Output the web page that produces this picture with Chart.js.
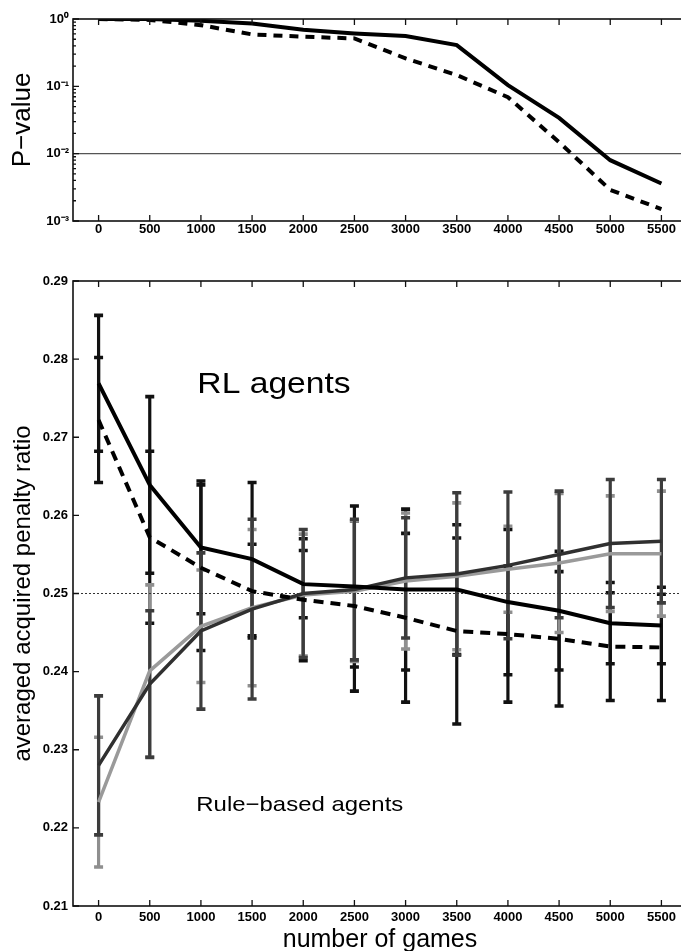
<!DOCTYPE html>
<html>
<head>
<meta charset="utf-8">
<script src="https://cdn.jsdelivr.net/npm/chart.js@4.4.1/dist/chart.umd.min.js"></script>
<style>
  html, body { margin: 0; padding: 0; background: #fff; }
  body { width: 681px; height: 951px; overflow: hidden; position: relative; }
  #pBox { position: absolute; left: 0; top: 0; width: 700px; height: 245px; }
  #ratioBox { position: absolute; left: 0; top: 245px; width: 700px; height: 706px; }
</style>
</head>
<body>
<div id="pBox"><canvas id="pChart"></canvas></div>
<div id="ratioBox"><canvas id="ratioChart"></canvas></div>
<script>
// games played before each evaluation
const games = [0, 500, 1000, 1500, 2000, 2500, 3000, 3500, 4000, 4500, 5000, 5500];
const gameTicks = [0, 500, 1000, 1500, 2000, 2500, 3000, 3500, 4000, 4500, 5000, 5500];

// P-value of each RL agent against the rule-based agents
const pSolid = [1.0, 1.0, 0.94, 0.86, 0.69, 0.61, 0.56, 0.41, 0.104, 0.034, 0.0080, 0.0036];
const pDashed = [1.0, 0.97, 0.81, 0.59, 0.545, 0.515, 0.26, 0.147, 0.069, 0.0148, 0.0029, 0.0015];
const pThreshold = 0.01;
const pMajorTicks = [0.001, 0.01, 0.1, 1];

// averaged acquired penalty ratio (mean and half error bar)
const rlSolid = [0.2769, 0.2639, 0.2559, 0.2544, 0.2512, 0.2509, 0.2505, 0.2505, 0.2489, 0.2478, 0.2462, 0.2459];
const rlSolidErr = [0.0087, 0.0113, 0.0085, 0.0098, 0.0043, 0.0103, 0.0103, 0.0083, 0.0093, 0.0076, 0.0052, 0.0049];
const rlDashed = [0.2722, 0.2572, 0.2533, 0.2503, 0.2492, 0.2484, 0.2469, 0.2452, 0.2448, 0.2442, 0.2432, 0.2431];
const rlDashedErr = [0.0080, 0.0110, 0.0106, 0.0060, 0.0078, 0.0109, 0.0108, 0.0119, 0.0087, 0.0086, 0.0069, 0.0068];
const ruleDark = [0.2280, 0.2384, 0.2452, 0.2480, 0.2500, 0.2505, 0.2520, 0.2525, 0.2536, 0.2550, 0.2564, 0.2567];
const ruleDarkErr = [0.0089, 0.0094, 0.0100, 0.0115, 0.0082, 0.0090, 0.0077, 0.0104, 0.0094, 0.0081, 0.0082, 0.0079];
const ruleLight = [0.2233, 0.2401, 0.2458, 0.2482, 0.2498, 0.2503, 0.2516, 0.2522, 0.2531, 0.2539, 0.2551, 0.2551];
const ruleLightErr = [0.0083, 0.0110, 0.0072, 0.0100, 0.0078, 0.0090, 0.0087, 0.0094, 0.0055, 0.0089, 0.0074, 0.0080];
const fairShare = 0.25;
const ratioTicks = [0.21, 0.22, 0.23, 0.24, 0.25, 0.26, 0.27, 0.28, 0.29];

const FONT = '"Liberation Sans", Arial, Helvetica, sans-serif';
Chart.defaults.font.family = FONT;
Chart.defaults.color = '#000';

const SUP = { '-': '\u207B', '0': '\u2070', '1': '\u00B9', '2': '\u00B2', '3': '\u00B3' };
const pow10Label = v => '10' + String(Math.round(Math.log10(v))).split('').map(c => SUP[c]).join('');
const pts = vals => games.map((g, i) => ({ x: g, y: vals[i] }));
const isMajor = v => Math.abs(Math.log10(v) - Math.round(Math.log10(v))) < 1e-9;
const tickFont = { size: 13, weight: 'bold' };

// box around the plot with inward tick marks on every side that shows
const frameTicks = {
  id: 'frameTicks',
  afterDraw(chart) {
    const { ctx, chartArea: a, scales: { x, y } } = chart;
    ctx.save();
    ctx.strokeStyle = '#111';
    ctx.lineWidth = 1.6;
    ctx.strokeRect(a.left, a.top, a.right - a.left, a.bottom - a.top);
    ctx.lineWidth = 1.3;
    ctx.beginPath();
    x.ticks.forEach(t => {
      const px = x.getPixelForValue(t.value);
      ctx.moveTo(px, a.bottom); ctx.lineTo(px, a.bottom - 6);
      ctx.moveTo(px, a.top); ctx.lineTo(px, a.top + 6);
    });
    y.ticks.forEach(t => {
      const py = y.getPixelForValue(t.value);
      const len = (y.type !== 'logarithmic' || isMajor(t.value)) ? 6 : 3;
      ctx.moveTo(a.left, py); ctx.lineTo(a.left + len, py);
    });
    ctx.stroke();
    ctx.restore();
  }
};

// vertical error bars with caps, drawn under the lines
const errorBars = {
  id: 'errorBars',
  beforeDatasetsDraw(chart, args, opts) {
    const { ctx, scales: { x, y } } = chart;
    ctx.save();
    ctx.lineCap = 'butt';
    (opts.series || []).forEach(s => {
      ctx.strokeStyle = s.color;
      games.forEach((g, i) => {
        const px = x.getPixelForValue(g);
        const top = y.getPixelForValue(s.values[i] + s.errors[i]);
        const bot = y.getPixelForValue(s.values[i] - s.errors[i]);
        ctx.lineWidth = 3.2;
        ctx.beginPath();
        ctx.moveTo(px, top); ctx.lineTo(px, bot);
        ctx.stroke();
        ctx.lineWidth = 3.6;
        ctx.beginPath();
        ctx.moveTo(px - 4.5, top); ctx.lineTo(px + 4.5, top);
        ctx.moveTo(px - 4.5, bot); ctx.lineTo(px + 4.5, bot);
        ctx.stroke();
      });
    });
    ctx.restore();
  }
};

// group names written inside the plot
const groupLabels = {
  id: 'groupLabels',
  afterDatasetsDraw(chart, args, opts) {
    const { ctx, scales: { x, y } } = chart;
    (opts.items || []).forEach(it => {
      ctx.save();
      ctx.translate(x.getPixelForValue(it.x), y.getPixelForValue(it.y));
      ctx.scale(it.stretch, 1);
      ctx.font = `${it.size}px ${FONT}`;
      ctx.fillStyle = '#000';
      ctx.textBaseline = 'alphabetic';
      ctx.fillText(it.text, 0, 0);
      ctx.restore();
    });
  }
};

const xAxis = (height, pad, title) => ({
  type: 'linear',
  min: -250,
  max: 5750,
  afterBuildTicks: s => { s.ticks = gameTicks.map(v => ({ value: v })); },
  afterFit: s => { s.height = height; },
  grid: { display: false, drawTicks: false },
  border: { display: false },
  ticks: { padding: pad, autoSkip: false, maxRotation: 0, font: tickFont, color: '#000', callback: v => String(v) },
  title: title
});

const lineDefaults = { pointRadius: 0, tension: 0, fill: false, borderCapStyle: 'butt' };

new Chart(document.getElementById('pChart'), {
  type: 'line',
  data: {
    datasets: [
      { ...lineDefaults, data: [{ x: -250, y: pThreshold }, { x: 5750, y: pThreshold }], borderColor: '#555', borderWidth: 1.2, order: 3 },
      { ...lineDefaults, data: pts(pDashed), borderColor: '#000', borderWidth: 4, borderDash: [9, 7], order: 2 },
      { ...lineDefaults, data: pts(pSolid), borderColor: '#000', borderWidth: 4, order: 1 }
    ]
  },
  options: {
    responsive: true,
    maintainAspectRatio: false,
    animation: false,
    layout: { padding: { top: 19, right: 13, bottom: 0, left: 0 } },
    plugins: { legend: { display: false }, tooltip: { enabled: false } },
    scales: {
      x: xAxis(24, 1, { display: false }),
      y: {
        type: 'logarithmic',
        min: 0.001,
        max: 1,
        afterBuildTicks: s => {
          const t = [];
          pMajorTicks.forEach((m, i) => {
            if (i === pMajorTicks.length - 1) { t.push({ value: m }); return; }
            for (let k = 1; k <= 9; k++) t.push({ value: m * k });
          });
          s.ticks = t;
        },
        afterFit: s => { s.width = 73; },
        grid: { display: false, drawTicks: false },
        border: { display: false },
        ticks: {
          padding: 4,
          autoSkip: false,
          font: tickFont,
          color: '#000',
          callback: v => isMajor(v) ? pow10Label(v) : ''
        },
        title: { display: true, text: 'P\u2212value', font: { size: 26 }, padding: { top: 7, bottom: 0 }, color: '#000' }
      }
    }
  },
  plugins: [frameTicks]
});

new Chart(document.getElementById('ratioChart'), {
  type: 'line',
  data: {
    datasets: [
      { ...lineDefaults, data: [{ x: -250, y: fairShare }, { x: 5750, y: fairShare }], borderColor: '#333', borderWidth: 1, borderDash: [2, 2], order: 5 },
      { ...lineDefaults, data: pts(ruleLight), borderColor: '#9a9a9a', borderWidth: 3.5, order: 4 },
      { ...lineDefaults, data: pts(ruleDark), borderColor: '#303030', borderWidth: 3.5, order: 3 },
      { ...lineDefaults, data: pts(rlDashed), borderColor: '#000', borderWidth: 4, borderDash: [10, 7], order: 2 },
      { ...lineDefaults, data: pts(rlSolid), borderColor: '#000', borderWidth: 4, order: 1 }
    ]
  },
  options: {
    responsive: true,
    maintainAspectRatio: false,
    animation: false,
    layout: { padding: { top: 36, right: 13, bottom: 0, left: 0 } },
    plugins: {
      legend: { display: false },
      tooltip: { enabled: false },
      errorBars: {
        series: [
          { values: rlSolid, errors: rlSolidErr, color: '#111' },
          { values: rlDashed, errors: rlDashedErr, color: '#111' },
          { values: ruleLight, errors: ruleLightErr, color: '#8f8f8f' },
          { values: ruleDark, errors: ruleDarkErr, color: '#3c3c3c' }
        ]
      },
      groupLabels: {
        items: [
          { text: 'RL agents', x: 965, y: 0.2757, size: 29, stretch: 1.16 },
          { text: 'Rule\u2212based agents', x: 955, y: 0.2222, size: 21, stretch: 1.14 }
        ]
      }
    },
    scales: {
      x: xAxis(45, 4, { display: true, text: 'number of games', font: { size: 25, lineHeight: 0.88 }, padding: 0, color: '#000' }),
      y: {
        type: 'linear',
        min: 0.21,
        max: 0.29,
        afterBuildTicks: s => { s.ticks = ratioTicks.map(v => ({ value: v })); },
        afterFit: s => { s.width = 73; },
        grid: { display: false, drawTicks: false },
        border: { display: false },
        ticks: { padding: 5, autoSkip: false, font: tickFont, color: '#000', callback: v => v.toFixed(2) },
        title: { display: true, text: 'averaged acquired penalty ratio', font: { size: 24 }, padding: { top: 9, bottom: 0 }, color: '#000' }
      }
    }
  },
  plugins: [errorBars, groupLabels, frameTicks]
});
</script>
</body>
</html>
